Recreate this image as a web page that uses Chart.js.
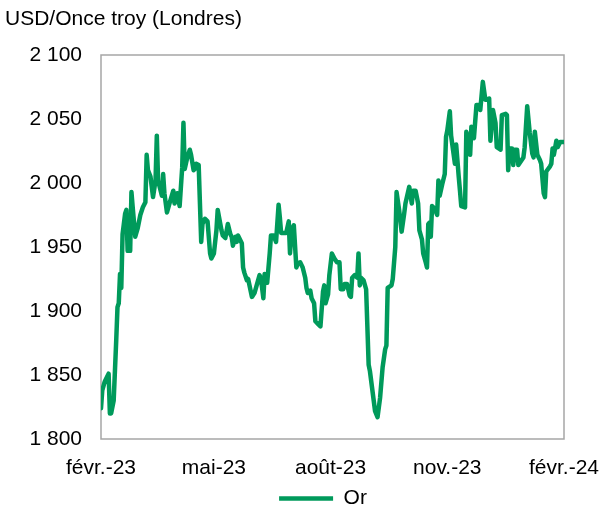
<!DOCTYPE html>
<html>
<head>
<meta charset="utf-8">
<script src="https://cdn.jsdelivr.net/npm/chart.js@4"></script>
<style>
    body { margin: 0; background: #fff; }
    #wrap { width: 600px; height: 508px; }
</style>
</head>
<body>
<div id="wrap"><canvas id="gold-chart"></canvas></div>
<script>

// days since the first quote (late feb. 2023), gold price in USD/oz
const days = [
    0, 1, 3, 6, 7, 8, 10, 12, 13, 14, 15, 16, 17, 19, 20, 21, 23, 24, 25, 27,
    29, 31, 33, 35, 36, 37, 39, 41, 43, 44, 45, 48, 49, 50, 52, 54, 57, 58, 60, 62,
    64, 65, 66, 68, 70, 71, 73, 74, 75, 77, 79, 80, 82, 84, 86, 87, 89, 91, 92, 95,
    96, 98, 100, 102, 103, 104, 106, 107, 108, 111, 112, 113, 115, 116, 119, 121, 125, 126, 128, 129,
    130, 131, 133, 134, 136, 138, 140, 141, 142, 144, 146, 148, 149, 150, 151, 152, 154, 155, 157, 159,
    161, 162, 163, 165, 166, 168, 169, 171, 173, 175, 176, 177, 179, 180, 182, 184, 186, 188, 189, 191,
    192, 194, 196, 197, 198, 200, 202, 203, 204, 205, 207, 209, 211, 212, 215, 216, 218, 220, 222, 224,
    225, 226, 229, 230, 232, 233, 235, 237, 239, 240, 243, 245, 246, 248, 250, 251, 253, 254, 256, 257,
    258, 259, 260, 261, 263, 265, 266, 267, 269, 271, 272, 273, 275, 276, 279, 280, 282, 283, 284, 287,
    288, 290, 291, 292, 294, 296, 298, 299, 301, 303, 304, 306, 307, 309, 311, 312, 315, 316, 319, 320,
    321, 322, 324, 325, 326, 328, 329, 331, 333, 334, 336, 338, 340, 341, 342, 344, 346, 347, 349, 350,
    351, 354, 355, 356, 357, 359, 360, 362, 365
];
const goldPrice = [
    1824, 1838, 1845, 1851, 1820, 1820, 1830, 1877, 1903, 1906, 1929, 1918, 1960, 1976, 1979, 1947, 1947, 1993, 1981, 1958,
    1965, 1975, 1981, 1985, 2022, 2010, 2005, 1989, 2002, 2037, 2002, 1990, 2007, 1992, 1977, 1984, 1994, 1984, 1992, 1982,
    2012, 2047, 2011, 2020, 2026, 2022, 2010, 2011, 2015, 2014, 1954, 1968, 1972, 1970, 1945, 1941, 1945, 1963, 1979, 1963,
    1959, 1957, 1968, 1960, 1958, 1951, 1958, 1954, 1959, 1953, 1934, 1930, 1924, 1925, 1911, 1914, 1928, 1926, 1910, 1929,
    1928, 1922, 1945, 1959, 1959, 1954, 1983, 1973, 1961, 1961, 1961, 1970, 1945, 1958, 1965, 1967, 1934, 1937, 1938, 1934,
    1926, 1918, 1914, 1916, 1910, 1906, 1892, 1890, 1888, 1915, 1920, 1906, 1913, 1928, 1945, 1941, 1938, 1938, 1917, 1917,
    1921, 1921, 1912, 1911, 1926, 1928, 1926, 1945, 1920, 1926, 1924, 1917, 1858, 1853, 1830, 1822, 1817, 1832, 1856, 1870,
    1873, 1918, 1920, 1925, 1950, 1993, 1979, 1962, 1976, 1984, 1997, 1984, 1994, 1994, 1984, 1963, 1956, 1945, 1938, 1934,
    1968, 1969, 1958, 1982, 1980, 1975, 2002, 1990, 1999, 2007, 2036, 2041, 2056, 2037, 2015, 2030, 2005, 1994, 1982, 1981,
    2040, 2033, 2022, 2044, 2035, 2061, 2061, 2057, 2079, 2065, 2065, 2066, 2033, 2057, 2047, 2028, 2026, 2053, 2054, 2053,
    2010, 2027, 2027, 2014, 2026, 2026, 2014, 2017, 2020, 2028, 2060, 2039, 2023, 2020, 2040, 2022, 2018, 2015, 1992, 1989,
    2009, 2013, 2015, 2027, 2022, 2033, 2028, 2032, 2032
];

const tickDays = [0, 89, 181, 273, 365];
const tickLabels = ['févr.-23', 'mai-23', 'août-23', 'nov.-23', 'févr.-24'];
const yTitle = 'USD/Once troy (Londres)';
const seriesName = 'Or';

const green = '#009a5b';
const frameColor = '#a6a6a6';
const fontFamily = '"Liberation Sans", Arial, sans-serif';
const fontSize = 21;

function thousands(v) {
    return String(v).replace(/\B(?=(\d{3})+(?!\d))/g, ' ');
}

// frame around the plot, the unit text above it, and a small nudge of the legend
const framePlugin = {
    id: 'frame',
    afterLayout(chart) {
        const lg = chart.legend;
        lg.left += 36;
        lg.right += 36;
        lg.top += 11;
        lg.bottom += 11;
    },
    beforeDatasetsDraw(chart) {
        const a = chart.chartArea;
        const ctx = chart.ctx;
        ctx.save();
        ctx.strokeStyle = frameColor;
        ctx.lineWidth = 1.5;
        ctx.strokeRect(a.left, a.top, a.right - a.left, a.bottom - a.top);
        ctx.restore();
    },
    afterDraw(chart) {
        const ctx = chart.ctx;
        ctx.save();
        ctx.fillStyle = '#000';
        ctx.font = fontSize + 'px ' + fontFamily;
        ctx.textBaseline = 'middle';
        ctx.textAlign = 'left';
        ctx.fillText(yTitle, 5, 19);
        ctx.restore();
    }
};

const points = days.map((d, i) => ({ x: d, y: goldPrice[i] }));

const config = {
    type: 'line',
    data: {
        datasets: [{
            label: seriesName,
            data: points,
            borderColor: green,
            backgroundColor: green,
            borderWidth: 4.5,
            pointRadius: 0,
            tension: 0,
            borderJoinStyle: 'round',
            borderCapStyle: 'round'
        }]
    },
    options: {
        responsive: true,
        maintainAspectRatio: false,
        animation: false,
        layout: {
            padding: { top: 55, right: 36, left: 10, bottom: 0 }
        },
        plugins: {
            legend: {
                display: true,
                position: 'bottom',
                labels: {
                    color: '#000',
                    font: { family: fontFamily, size: fontSize },
                    usePointStyle: true,
                    pointStyle: 'line',
                    pointStyleWidth: 54,
                    padding: 0
                }
            },
            tooltip: { enabled: false }
        },
        scales: {
            x: {
                type: 'linear',
                min: 0,
                max: 365,
                grid: { display: false, drawTicks: false },
                border: { display: false },
                afterBuildTicks(scale) {
                    scale.ticks = tickDays.map(d => ({ value: d }));
                },
                afterFit(scale) {
                    scale.height = 38;
                    scale.paddingLeft = 0;
                    scale.paddingRight = 0;
                },
                ticks: {
                    color: '#000',
                    font: { family: fontFamily, size: fontSize },
                    padding: 17,
                    maxRotation: 0,
                    autoSkip: false,
                    callback: (value, index) => tickLabels[index]
                }
            },
            y: {
                min: 1800,
                max: 2100,
                grid: { display: false, drawTicks: false },
                border: { display: false },
                afterFit(scale) {
                    scale.width = 91;
                    scale.paddingTop = 0;
                    scale.paddingBottom = 0;
                },
                ticks: {
                    stepSize: 50,
                    color: '#000',
                    font: { family: fontFamily, size: fontSize },
                    padding: 19,
                    callback: v => thousands(v)
                }
            }
        }
    },
    plugins: [framePlugin]
};

new Chart('gold-chart', config);
</script>
</body>
</html>
